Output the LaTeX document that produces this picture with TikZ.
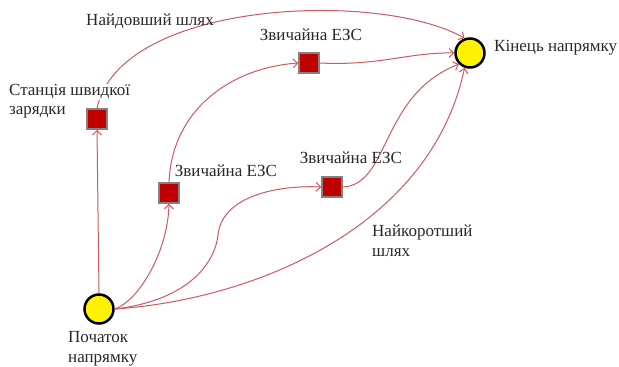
\documentclass[tikz,border=0pt]{standalone}
\usepackage{fontspec}
\setmainfont{Liberation Serif}
\usetikzlibrary{arrows.meta}
\definecolor{evred}{RGB}{192,0,0}
\definecolor{edgered}{RGB}{205,90,95}
\definecolor{sqborder}{RGB}{130,130,130}
\definecolor{txt}{RGB}{40,40,40}
\begin{document}
\begin{tikzpicture}[x=1pt,y=-1pt,
  ev/.style={rectangle, draw=sqborder, line width=1.5pt, fill=evred, minimum size=20pt, inner sep=0pt},
  pnt/.style={circle, draw=black, line width=2.5pt, fill=yellow, minimum size=29pt, inner sep=0pt},
  lbl/.style={font=\fontsize{17}{20}\selectfont, text=txt, inner sep=1pt, align=left},
  route/.style={draw=edgered, line width=1pt, -{Straight Barb[length=4.5pt,width=9pt]}}]
\useasboundingbox (0,0) rectangle (619,367);
% nodes
\node[pnt] (start) at (99,309) {};
\node[pnt] (end) at (470,53) {};
\node[ev] (fast) at (97,119) {};
\node[ev] (top) at (309,63) {};
\node[ev] (ml) at (169,193) {};
\node[ev] (mr) at (332,187) {};
% connectors
\draw[route] (fast.north) .. controls (120,0) and (380,-10) .. (end.110);
\draw[route] (start.north) -- (fast.south);
\draw[route] (start.east) .. controls (140,300) and (168,250) .. (ml.south);
\draw[route] (ml.north) .. controls (172,110) and (230,68) .. (top.west);
\draw[route] (top.east) .. controls (380,66) and (410,52) .. (end.west);
\draw[route] (start.east) .. controls (190,300) and (215,262) .. (218,235)
  .. controls (222,195) and (280,185) .. (mr.west);
\draw[route] (mr.east) .. controls (390,185) and (380,95) .. (end.225);
\draw[route] (start.east) .. controls (250,300) and (430,230) .. (end.250);
% labels
\node[lbl] (l1) at (150,21) {Найдовший шлях};
\node[lbl] (l2) at (311,35) {Звичайна ЕЗС};
\node[lbl, fill=white, anchor=west] (l3a) at (8,92) {Станція швидкої};
\node[lbl, anchor=west] (l3b) at (8,112) {зарядки};
\node[lbl] (l4) at (226,171) {Звичайна ЕЗС};
\node[lbl] (l5) at (351,158) {Звичайна ЕЗС};
\node[lbl, anchor=west] (l6) at (493,48) {Кінець напрямку};
\node[lbl, anchor=north west] (l7) at (371,224) {Найкоротший\\шлях};
\node[lbl, anchor=north west] (l8) at (67,330) {Початок\\напрямку};
\end{tikzpicture}
\end{document}
